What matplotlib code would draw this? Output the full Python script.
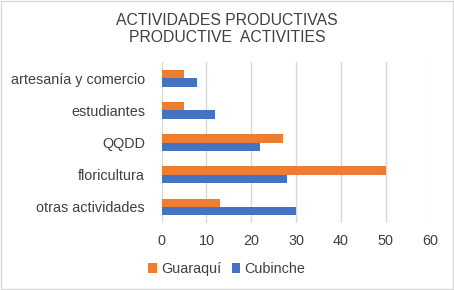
import numpy as np
import matplotlib.pyplot as plt
from matplotlib.patches import Rectangle

plt.rcParams['font.family'] = ['Liberation Sans', 'DejaVu Sans']

categories = ["artesanía y comercio", "estudiantes", "QQDD", "floricultura", "otras actividades"]
guaraqui = [5, 5, 27, 50, 13]
cubinche = [8, 12, 22, 28, 30]
ticks = [0, 10, 20, 30, 40, 50, 60]

fig = plt.figure(figsize=(4.54, 2.90), dpi=100)
ax = fig.add_axes([0.356, 0.231, 0.592, 0.555])

y = np.arange(len(categories))
h = 0.26
ax.barh(y - h / 2, guaraqui, height=h, color="#ED7D31", label="Guaraquí", zorder=3)
ax.barh(y + h / 2, cubinche, height=h, color="#4472C4", label="Cubinche", zorder=3)

ax.set_ylim(len(categories) - 0.5, -0.5)
ax.set_xlim(0, 60)
ax.set_xticks(ticks)
ax.set_yticks(y)
ax.set_yticklabels(categories)
ax.tick_params(axis='both', length=0, labelsize=10.4, colors="#404040")
ax.tick_params(axis='y', pad=12)
ax.tick_params(axis='x', pad=8)
ax.grid(axis='x', color="#D9D9D9", linewidth=1, zorder=0)
for s in ax.spines.values():
    s.set_visible(False)

fig.text(0.5, 0.9, "ACTIVIDADES PRODUCTIVAS\nPRODUCTIVE  ACTIVITIES", ha='center', va='center',
         fontsize=11.3, color="#404040", linespacing=1.18)

handles, labels = ax.get_legend_handles_labels()
fig.legend(handles, labels, loc='center', bbox_to_anchor=(0.5, 0.072), ncol=2, frameon=False,
           fontsize=10.4, handlelength=0.6, handleheight=0.6, handletextpad=0.3, columnspacing=0.7,
           labelcolor="#404040")

fig.patches.append(Rectangle((0.002, 0.003), 0.996, 0.994, transform=fig.transFigure,
                             fill=False, edgecolor="#D9D9D9", linewidth=1))

fig.savefig("out.png", dpi=100)
